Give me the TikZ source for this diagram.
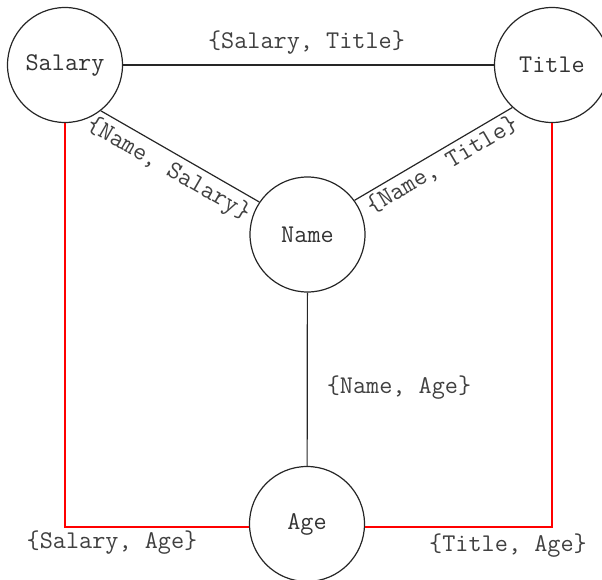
\documentclass[tikz,border=0pt]{standalone}
\usepackage{fontspec}
\newcommand\tagfont{\ttfamily\fontsize{25.5}{28}\selectfont}
\begin{document}
\begin{tikzpicture}[x=1pt,y=-1pt,
  entity/.style={circle, draw=black!85, line width=1.2pt, minimum size=115pt,
    inner sep=0pt, font=\tagfont, text=black!80},
  link/.style={draw=black!85, line width=1.2pt},
  redlink/.style={draw=red, line width=1.2pt},
  tag/.style={font=\tagfont, text=black!75, inner sep=1pt}]
\useasboundingbox (0,0) rectangle (602,580);

% attribute nodes
\node[entity] (salary) at (65,65) {Salary};
\node[entity] (title) at (552,65) {Title};
\node[entity] (name) at (307.5,234.5) {Name};
\node[entity] (age) at (307,524) {Age};

% black dependencies
\draw[link] (salary) -- (title);
\node[tag] (st) at (306.5,43) {\{Salary, Title\}};
\draw[link] (salary.-52) -- (name.146)
  node[tag, sloped, pos=0.48, below=4pt] (ns) {\{Name, Salary\}};
\draw[link] (name.36) -- (title.227)
  node[tag, sloped, pos=0.51, below=2pt] (nt) {\{Name, Title\}};
\draw[link] (name) -- (age);
\node[tag] (na) at (399,388) {\{Name, Age\}};

% red dependencies
\draw[redlink] (salary.south) |- (age.183);
\draw[redlink] (title.south) |- (age.-3);
\node[tag] (sa) at (112,543) {\{Salary, Age\}};
\node[tag] (ta) at (508,546) {\{Title, Age\}};
\end{tikzpicture}
\end{document}
